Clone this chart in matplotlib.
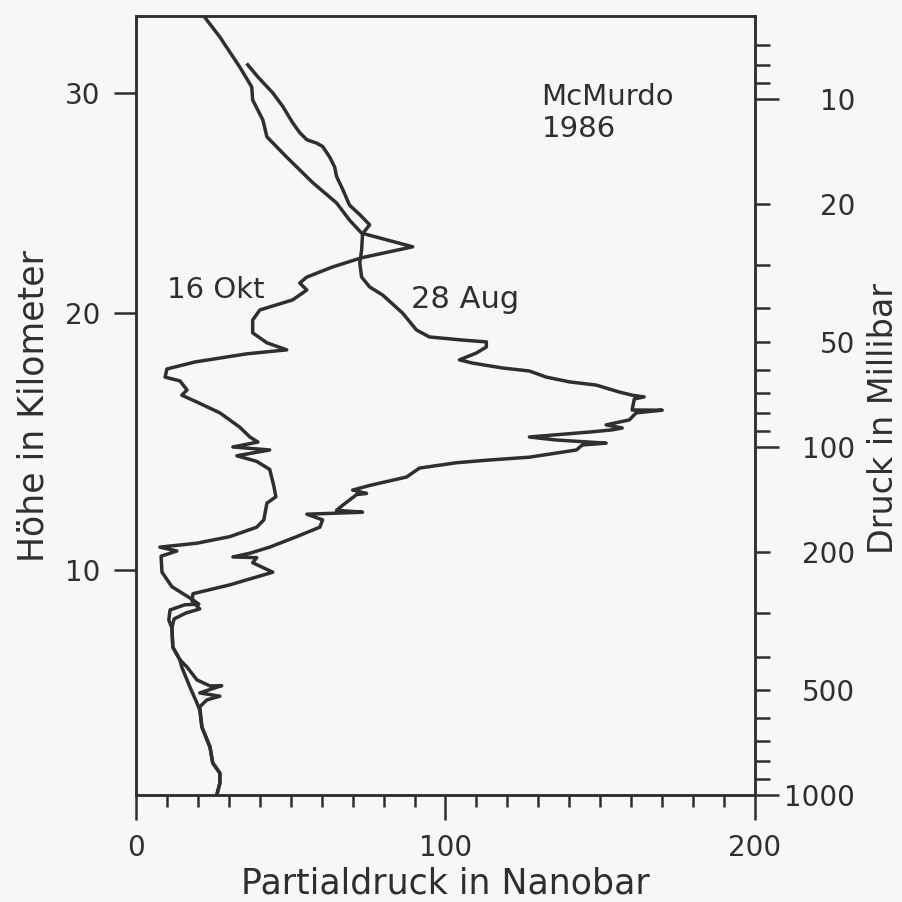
import matplotlib
matplotlib.use("Agg")
import matplotlib.pyplot as plt

# Ozone profile, McMurdo 1986: partial pressure (nbar) vs. pressure (mbar)
okt_x = [21.9, 27.1, 33.5, 37.4, 37.7, 41.0, 42.3, 48.7, 57.1, 64.8, 69.0, 72.9, 89.4,
         72.9, 63.5, 55.2, 52.9, 55.2, 50.6, 40.0, 37.7, 37.7, 42.3, 48.7, 35.8, 19.0,
         10.0, 9.4, 14.2, 16.5, 14.8, 19.7, 27.1, 33.5, 36.8, 39.4, 31.3, 43.2, 32.6,
         39.0, 43.2, 44.5, 45.2, 42.3, 41.3, 39.0, 30.3, 19.7, 7.7, 13.2, 8.1, 8.4,
         11.6, 18.4, 20.3, 15.8, 11.0, 10.6, 11.6, 11.9, 14.2, 16.5, 19.7, 23.9, 27.7,
         20.6, 27.1, 22.9, 20.6, 21.3, 23.9, 24.8, 27.1, 27.1, 26.1]
okt_p = [5.78, 6.64, 8.09, 9.24, 10.07, 11.5, 12.85, 14.7, 17.4, 19.9, 22.3, 24.3, 26.6,
         28.6, 30.4, 32.5, 33.8, 35.4, 37.8, 40.4, 43.2, 47.0, 50.2, 52.6, 54.0, 57.0,
         59.7, 63.0, 64.6, 68.6, 71.0, 74.3, 79.8, 87.7, 93.6, 96.8, 100, 102, 106,
         110, 116, 129, 139, 145, 162, 170, 181, 189, 194, 199, 206, 229,
         252, 275, 283, 284, 294, 314, 331, 376, 409, 429, 467, 486, 485,
         509, 520, 533, 558, 638, 728, 809, 865, 924, 1000]

aug_x = [36.1, 39.4, 44.2, 47.4, 50.6, 52.9, 55.2, 58.4, 60.3, 62.6, 64.2, 64.8, 66.8,
         69.0, 72.3, 75.5, 73.2, 72.9, 72.3, 72.9, 75.5, 79.7, 86.1, 90.6, 94.8, 105.5,
         113.2, 113.2, 110.0, 104.5, 108.7, 118.4, 127.1, 132.6, 140.0, 148.7, 156.1,
         160.3, 164.2, 161.0, 160.3, 170.0, 161.6, 159.4, 151.9, 157.1, 153.9, 146.5,
         127.1, 135.8, 151.9, 144.2, 142.3, 127.1, 114.2, 103.5, 91.6, 87.4, 75.5, 70.0,
         74.5, 71.3, 66.8, 64.8, 73.2, 55.2, 60.3, 59.4, 51.9, 43.2, 36.8, 31.3, 39.0,
         37.7, 44.2, 30.3, 18.4, 18.1, 20.6, 16.1, 12.3, 11.6, 11.9, 14.2, 14.8, 17.4,
         19.7, 20.6, 21.3, 23.9, 24.8, 27.1, 27.1, 26.1]
aug_p = [7.98, 8.65, 9.61, 10.5, 11.7, 12.5, 13.1, 13.4, 13.7, 14.7, 15.7, 16.7, 18.2,
         20.2, 21.5, 23.0, 24.4, 27.2, 29.6, 32.5, 34.7, 36.6, 41.2, 46.1, 48.3, 49.3,
         49.9, 51.6, 53.7, 56.2, 57.4, 59.3, 60.5, 63.0, 65.0, 66.4, 69.5,
         71.0, 71.8, 72.8, 78.3, 78.4, 79.8, 83.6, 86.4, 88.2, 89.3, 90.6,
         93.6, 95.5, 97.5, 98.7, 102, 107, 109, 111, 115, 122, 129, 133,
         136, 137, 147, 152, 154, 156, 162, 170, 181, 194, 202, 207, 208,
         215, 229, 249, 264, 277, 292, 300, 312, 331, 376, 409, 429, 489,
         544, 570, 638, 728, 809, 865, 924, 1000]

# axis ticks
x_major = [0, 100, 200]
x_minor = [10, 20, 30, 40, 50, 60, 70, 80, 90, 110, 120, 130, 140, 150, 160, 170, 180, 190]
alt_labels = ["30", "20", "10"]
alt_p = [9.6, 41.2, 225.6]          # pressure level of each altitude mark
p_major = [10, 100, 1000]
p_minor = [7, 8, 9, 20, 30, 40, 50, 60, 70, 80, 90, 200, 300, 400, 500, 600, 700, 800, 900]
p_minor_labelled = [20, 50, 200, 500]

ink = "#2f2f2f"
paper = "#f7f7f5"

plt.rcParams["font.family"] = "DejaVu Sans"

fig = plt.figure(figsize=(9.03, 9.02), dpi=100, facecolor=paper)
ax = fig.add_axes([0.1506, 0.1186, 0.6855, 0.8636])
ax.set_facecolor(paper)

ax.plot(okt_x, okt_p, color=ink, lw=2.5, solid_joinstyle="round")
ax.plot(aug_x, aug_p, color=ink, lw=2.5, solid_joinstyle="round")

ax.set_yscale("log")
ax.set_ylim(1000, 5.78)
ax.set_xlim(0, 200)

# bottom axis
ax.set_xticks(x_major, labels=[str(v) for v in x_major])
ax.set_xticks(x_minor, minor=True)
ax.tick_params(axis="x", which="major", direction="out", length=18, width=1.8,
               pad=10, labelsize=20, color=ink, labelcolor=ink)
ax.tick_params(axis="x", which="minor", direction="out", length=8.6, width=1.8, color=ink)

# left axis: altitude
ax.set_yticks(alt_p, labels=alt_labels)
ax.set_yticks([], minor=True)
ax.tick_params(axis="y", which="major", direction="out", length=16, width=1.8,
               pad=10, labelsize=20, color=ink, labelcolor=ink)

# right axis: pressure
ax_r = ax.twinx()
ax_r.set_yscale("log")
ax_r.set_ylim(1000, 5.78)
ax_r.set_yticks(p_major, labels=[str(v) for v in p_major])
ax_r.set_yticks(p_minor, labels=[str(v) if v in p_minor_labelled else "" for v in p_minor],
                minor=True)
ax_r.tick_params(axis="y", which="major", direction="out", length=17, width=1.8,
                 pad=55, labelsize=20, color=ink, labelcolor=ink)
ax_r.tick_params(axis="y", which="minor", direction="out", length=11, width=1.8,
                 pad=61, labelsize=20, color=ink, labelcolor=ink)
for lab in ax_r.get_yticklabels(which="both"):
    lab.set_horizontalalignment("right")

for a in (ax, ax_r):
    for sp in a.spines.values():
        sp.set_linewidth(1.8)
        sp.set_color(ink)

ax.set_xlabel("Partialdruck in Nanobar", fontsize=25, color=ink, labelpad=3)
ax.set_ylabel("Höhe in Kilometer", fontsize=25, color=ink, labelpad=10)
ax_r.set_ylabel("Druck in Millibar", fontsize=24, color=ink, labelpad=9)
ax_r.yaxis.label.set_y(0.484)

ax.text(131, 9.0, "McMurdo\n1986", fontsize=21, color=ink, ha="left", va="top",
        linespacing=1.2)
ax.text(10, 37.3, "16 Okt", fontsize=21, color=ink, ha="left", va="baseline")
ax.text(89, 39.9, "28 Aug", fontsize=22, color=ink, ha="left", va="baseline")

fig.savefig("out.png", dpi=100, facecolor=paper)
